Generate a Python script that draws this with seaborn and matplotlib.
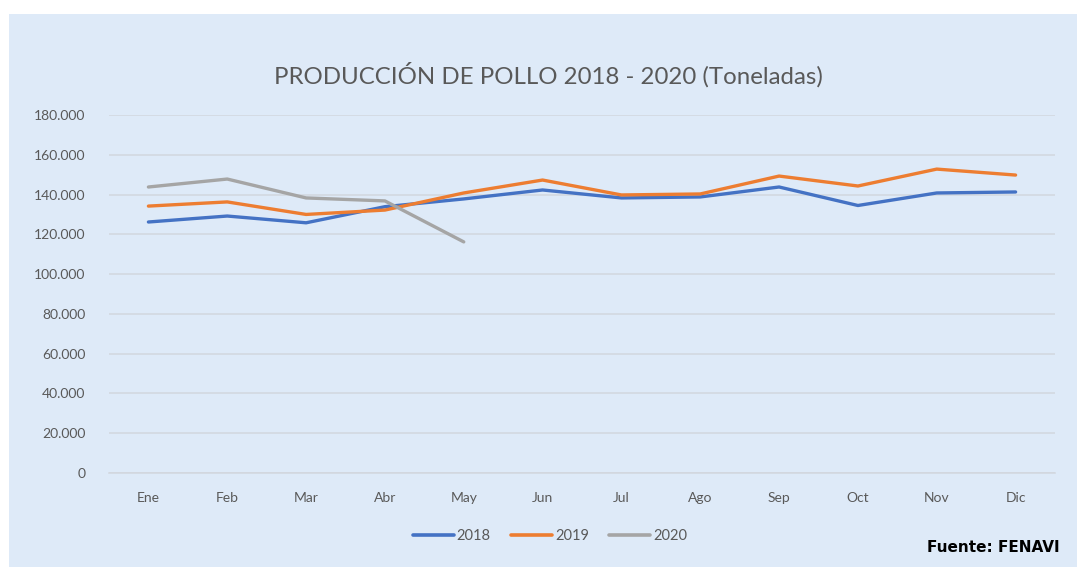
import matplotlib
matplotlib.use("Agg")
import matplotlib.pyplot as plt
from matplotlib.patches import Rectangle
import seaborn as sns
import pandas as pd

meses = ["Ene", "Feb", "Mar", "Abr", "May", "Jun", "Jul", "Ago", "Sep", "Oct", "Nov", "Dic"]
v2018 = [126200, 129200, 125800, 133900, 137800, 142300, 138300, 138800, 143800, 134500, 140800, 141300]
v2019 = [134200, 136300, 130000, 132200, 140800, 147300, 139800, 140300, 149300, 144300, 152800, 149800]
v2020 = [143800, 147800, 138300, 136800, 116200]
series = {"2018": v2018, "2019": v2019, "2020": v2020}
colores = {"2018": "#4472C4", "2019": "#ED7D31", "2020": "#A5A5A5"}
yticks = list(range(0, 180001, 20000))

rows = []
for anio, vals in series.items():
    for i, v in enumerate(vals):
        rows.append({"Mes": meses[i], "pos": i, "Año": anio, "Toneladas": v})
df = pd.DataFrame(rows)

sns.set_theme(style="white")
plt.rcParams["font.family"] = ["Lato", "DejaVu Sans"]

bg = "#DEEAF8"
fig = plt.figure(figsize=(10.77, 5.67), dpi=100, facecolor="white")
fig.patches.append(Rectangle((9 / 1077, 0), 1 - 9 / 1077, 1 - 14 / 567,
                             transform=fig.transFigure, facecolor=bg,
                             edgecolor="none", zorder=-5))
ax = fig.add_axes([109 / 1077, 1 - 473 / 567, (1055 - 109) / 1077, (473 - 115) / 567])
ax.set_zorder(1)
ax.set_facecolor(bg)

sns.lineplot(data=df, x="pos", y="Toneladas", hue="Año", palette=colores,
             linewidth=2.4, ax=ax, legend=False, sort=False)

ax.set_xlim(-0.5, len(meses) - 0.5)
ax.set_ylim(0, 180000)
ax.set_xticks(range(len(meses)))
ax.set_xticklabels(meses)
ax.set_yticks(yticks)
ax.set_yticklabels([f"{t:,}".replace(",", ".") for t in yticks])
ax.grid(axis="y", color="#D2D7DE", linewidth=1.1)
ax.set_axisbelow(True)
for s in ["top", "right", "left"]:
    ax.spines[s].set_visible(False)
ax.spines["bottom"].set_color("#D2D7DE")
ax.spines["bottom"].set_linewidth(1.1)
ax.tick_params(axis="both", length=0, colors="#595959", labelsize=10)
ax.tick_params(axis="y", pad=17)
ax.tick_params(axis="x", pad=14)
ax.set_xlabel("")
ax.set_ylabel("")

fig.text(0.509, 1 - 75 / 567, "PRODUCCIÓN DE POLLO 2018 - 2020 (Toneladas)",
         ha="center", va="center", fontsize=17.3, color="#595959")

handles = [plt.Line2D([], [], color=colores[k], linewidth=2.6) for k in series]
fig.legend(handles, list(series.keys()), loc="center", bbox_to_anchor=(550 / 1077, 1 - 536 / 567),
           ncol=3, frameon=False, fontsize=10.5, handlelength=2.8, handletextpad=0.2,
           columnspacing=1.4, labelcolor="#595959")

fig.text(1060 / 1077, 1 - 547 / 567, "Fuente: FENAVI", ha="right", va="center",
         fontsize=11, fontweight="bold", color="black", family="DejaVu Sans")

fig.savefig("out.png", dpi=100, facecolor="white")
